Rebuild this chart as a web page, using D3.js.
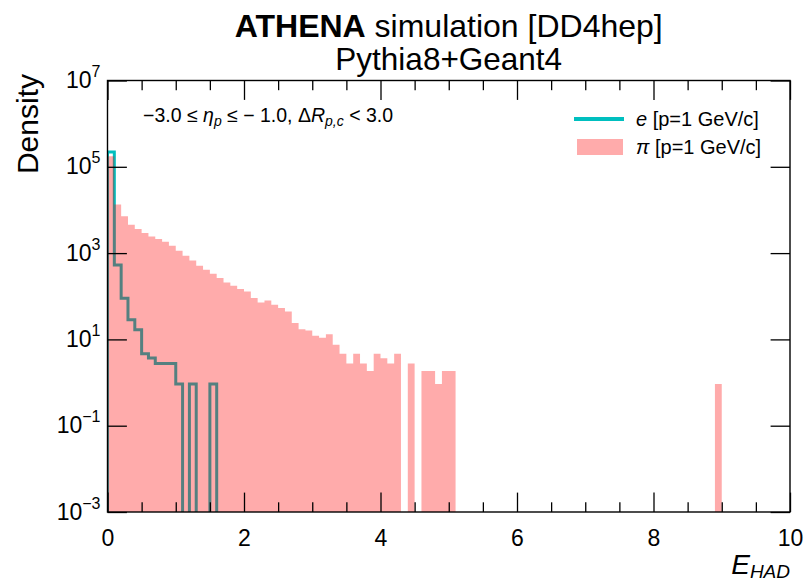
<!DOCTYPE html>
<html>
<head>
<meta charset="utf-8">
<script src="https://cdn.jsdelivr.net/npm/d3@7"></script>
<style>
  html, body { margin: 0; padding: 0; background: #ffffff; }
  svg text { font-family: "Liberation Sans", Arial, Helvetica, sans-serif; fill: #000; }
</style>
</head>
<body>
<svg id="chart" width="805" height="585"></svg>
<script>
// ---------------- data ----------------
const binStart = 0, binWidth = 0.1, nBins = 100;
// pion density per bin (0.0-0.1, 0.1-0.2, ... 9.9-10.0)
const pionDensity = [
  175000, 13300, 7100, 4560, 3620, 2920, 2440, 2120, 1840, 1480,
  1140, 871, 678, 510, 412, 333, 264, 209, 175, 147,
  129, 90.8, 71.8, 80, 63.5, 53.2, 44.4, 23.9, 17.3, 16.1,
  12.1, 10.9, 13.1, 7.5, 4.63, 2.76, 4.63, 2.76, 1.84, 4.63,
  3.68, 2.76, 4.63, 0, 2.76, 0, 1.84, 1.84, 0.92, 1.84,
  1.84, 0, 0, 0, 0, 0, 0, 0, 0, 0,
  0, 0, 0, 0, 0, 0, 0, 0, 0, 0,
  0, 0, 0, 0, 0, 0, 0, 0, 0, 0,
  0, 0, 0, 0, 0, 0, 0, 0, 0, 0.92,
  0, 0, 0, 0, 0, 0, 0, 0, 0, 0
];
// electron density per bin
const electronDensity = [
  220000, 530, 90, 28.5, 16.7, 4.63, 3.7, 2.76, 2.76, 2.76,
  0.92, 0, 0.92, 0, 0, 0.92, 0, 0, 0, 0,
  0, 0, 0, 0, 0, 0, 0, 0, 0, 0,
  0, 0, 0, 0, 0, 0, 0, 0, 0, 0,
  0, 0, 0, 0, 0, 0, 0, 0, 0, 0,
  0, 0, 0, 0, 0, 0, 0, 0, 0, 0,
  0, 0, 0, 0, 0, 0, 0, 0, 0, 0,
  0, 0, 0, 0, 0, 0, 0, 0, 0, 0,
  0, 0, 0, 0, 0, 0, 0, 0, 0, 0,
  0, 0, 0, 0, 0, 0, 0, 0, 0, 0
];
const xMajorTicks = [0, 2, 4, 6, 8, 10];
const xMinorTicks = [0.5, 1, 1.5, 2.5, 3, 3.5, 4.5, 5, 5.5, 6.5, 7, 7.5, 8.5, 9, 9.5];
const yTickValues = [1e-3, 1e-1, 1e1, 1e3, 1e5, 1e7];
const yTickExponents = ["\u22123", "\u22121", "1", "3", "5", "7"];
const titleBold = "ATHENA";
const titleRest = " simulation [DD4hep]";
const subtitle = "Pythia8+Geant4";
const legendLabels = [{sym: "e", rest: " [p=1 GeV/c]"}, {sym: "\u03c0", rest: " [p=1 GeV/c]"}];

// ---------------- layout ----------------
const L = 107.5, R = 790, T = 80.5, B = 512;
const cyan = "#00bfbf";
const pionFill = "rgba(255,0,0,0.33)";

const svg = d3.select("#chart");
const x = d3.scaleLinear().domain([0, 10]).range([L, R]);
const y = d3.scaleLog().domain([1e-3, 1e7]).range([B, T]);

svg.append("defs").append("clipPath").attr("id", "plotclip")
  .append("rect").attr("x", L).attr("y", T).attr("width", R - L).attr("height", B - T);

const plot = svg.append("g").attr("clip-path", "url(#plotclip)");
const edges = d3.range(nBins + 1).map(i => binStart + i * binWidth);

// electron step outline
const ePts = [[x(edges[0]), B + 30]];
electronDensity.forEach((v, i) => {
  const yy = v > 0 ? y(v) : B + 30;
  ePts.push([x(edges[i]), yy]);
  ePts.push([x(edges[i + 1]), yy]);
});
ePts.push([x(edges[nBins]), B + 30]);
plot.append("path")
  .attr("d", d3.line()(ePts))
  .attr("fill", "none")
  .attr("stroke", cyan)
  .attr("stroke-width", 3)
  .attr("stroke-linejoin", "miter");

// pion filled histogram
const pPts = [];
pionDensity.forEach((v, i) => {
  const yy = v > 0 ? y(v) : B;
  pPts.push({x: x(edges[i]), y: yy});
  pPts.push({x: x(edges[i + 1]), y: yy});
});
plot.append("path")
  .attr("d", d3.area().x(d => d.x).y0(B).y1(d => d.y)(pPts))
  .attr("fill", pionFill)
  .attr("stroke", "none");

// ---------------- axes ----------------
const tickW = 1.3;
function styleAxis(g) {
  g.select(".domain").remove();
  g.selectAll(".tick line").attr("stroke", "#000").attr("stroke-width", tickW);
}
const majorLen = 19.4, minorLen = 9.7;

// bottom
const gxb = svg.append("g").attr("transform", `translate(0,${B})`)
  .call(d3.axisBottom(x).tickValues(xMajorTicks).tickSize(-majorLen).tickPadding(17.5)
    .tickFormat(d3.format("d")));
styleAxis(gxb);
gxb.selectAll(".tick text").attr("font-size", 23).attr("font-family", "Liberation Sans, Arial, sans-serif");
svg.append("g").attr("transform", `translate(0,${B})`)
  .call(d3.axisBottom(x).tickValues(xMinorTicks).tickSize(-minorLen).tickFormat(""))
  .call(styleAxis);
// top
svg.append("g").attr("transform", `translate(0,${T})`)
  .call(d3.axisTop(x).tickValues(xMajorTicks).tickSize(-majorLen).tickFormat(""))
  .call(styleAxis);
svg.append("g").attr("transform", `translate(0,${T})`)
  .call(d3.axisTop(x).tickValues(xMinorTicks).tickSize(-minorLen).tickFormat(""))
  .call(styleAxis);
// left
const gyl = svg.append("g").attr("transform", `translate(${L},0)`)
  .call(d3.axisLeft(y).tickValues(yTickValues).tickSize(-majorLen).tickFormat(""));
styleAxis(gyl);
gyl.selectAll(".tick text").remove();
// right
svg.append("g").attr("transform", `translate(${R},0)`)
  .call(d3.axisRight(y).tickValues(yTickValues).tickSize(-majorLen).tickFormat(""))
  .call(styleAxis);

// y tick labels 10^n
yTickValues.forEach((v, i) => {
  const t = svg.append("text")
    .attr("x", L - 7)
    .attr("y", y(v) + 7.5)
    .attr("text-anchor", "end")
    .attr("font-size", 23);
  t.append("tspan").text("10");
  t.append("tspan").attr("font-size", 16).attr("dy", -11).text(yTickExponents[i]);
});

// frame
svg.append("rect").attr("x", L).attr("y", T).attr("width", R - L).attr("height", B - T)
  .attr("fill", "none").attr("stroke", "#000").attr("stroke-width", 1.4);

// ---------------- titles ----------------
const cx = (L + R) / 2;
const t1 = svg.append("text").attr("x", cx).attr("y", 37).attr("text-anchor", "middle").attr("font-size", 32);
t1.append("tspan").attr("font-weight", "bold").text(titleBold);
t1.append("tspan").text(titleRest);
svg.append("text").attr("x", cx).attr("y", 70).attr("text-anchor", "middle").attr("font-size", 31.5).text(subtitle);

// y label
svg.append("text")
  .attr("transform", `translate(38,74) rotate(-90)`)
  .attr("text-anchor", "end")
  .attr("font-size", 30)
  .text("Density");

// x label
const xl = svg.append("text").attr("x", R).attr("y", 574).attr("text-anchor", "end")
  .attr("font-style", "italic").attr("font-size", 28);
xl.append("tspan").text("E");
xl.append("tspan").attr("font-size", 19).attr("dy", 4).text("HAD");

// annotation
const an = svg.append("text").attr("x", 143).attr("y", 122).attr("font-size", 19.5);
an.append("tspan").text("\u22123.0 \u2264 ");
an.append("tspan").attr("font-style", "italic").text("\u03b7");
an.append("tspan").attr("font-style", "italic").attr("font-size", 14).attr("dy", 4).text("p");
an.append("tspan").attr("dy", -4).text(" \u2264 \u2212 1.0, \u0394");
an.append("tspan").attr("font-style", "italic").text("R");
an.append("tspan").attr("font-style", "italic").attr("font-size", 14).attr("dy", 4).text("p,c");
an.append("tspan").attr("dy", -4).text(" < 3.0");

// legend
svg.append("line").attr("x1", 574).attr("x2", 624).attr("y1", 119).attr("y2", 119)
  .attr("stroke", cyan).attr("stroke-width", 4);
svg.append("rect").attr("x", 577).attr("y", 139).attr("width", 46).attr("height", 16)
  .attr("fill", pionFill);
legendLabels.forEach((d, i) => {
  const lt = svg.append("text").attr("x", 636).attr("y", 126 + i * 28).attr("font-size", 20);
  lt.append("tspan").attr("font-style", "italic").text(d.sym);
  lt.append("tspan").text(d.rest);
});
</script>
</body>
</html>
